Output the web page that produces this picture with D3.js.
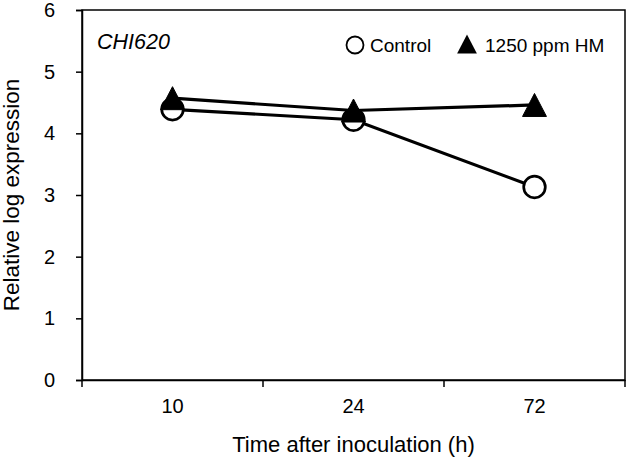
<!DOCTYPE html>
<html><head><meta charset="utf-8">
<script src="https://cdn.jsdelivr.net/npm/d3@7"></script>
<style>body{margin:0;background:#fff;} svg{display:block;font-family:"Liberation Sans",Arial,sans-serif;}</style>
</head><body>
<svg id="chart" width="628" height="464"></svg>
<script>
const categories = ["10", "24", "72"];
const controlValues = [4.39, 4.22, 3.13];
const hmValues = [4.57, 4.37, 4.46];
const yTicks = [0, 1, 2, 3, 4, 5, 6];
const seriesNames = ["Control", "1250 ppm HM"];

(function () {
const svg = d3.select("#chart");
const pL = 82, pR = 625, pT = 10, pB = 380;
const FF = "Liberation Sans, Arial, sans-serif";

const x = d3.scaleBand().domain(categories).range([pL, pR]);
const y = d3.scaleLinear().domain([0, 6]).range([pB, pT]);

// plot box
svg.append("rect").attr("x", pL).attr("y", pT).attr("width", pR-pL).attr("height", pB-pT)
  .attr("fill", "none").attr("stroke", "#000").attr("stroke-width", 1.5);

// y axis
const yAxis = svg.append("g").attr("transform", `translate(${pL},0)`)
  .call(d3.axisLeft(y).tickValues(yTicks).tickSize(6).tickPadding(21).tickFormat(d3.format("d")));
yAxis.select(".domain").attr("stroke-width", 1.5);
yAxis.selectAll(".tick line").attr("stroke-width", 1.5);
yAxis.selectAll("text").attr("font-size", 20).attr("fill", "#000").attr("font-family", FF);

// x axis with ticks at band boundaries
const xAxis = svg.append("g").attr("transform", `translate(0,${pB})`)
  .call(d3.axisBottom(x).tickSize(0).tickPadding(19));
xAxis.select(".domain").attr("stroke-width", 1.5);
xAxis.selectAll("text").attr("font-size", 20).attr("fill", "#000").attr("font-family", FF);
const bounds = categories.map(c => x(c)).concat([x(categories[categories.length-1]) + x.bandwidth()]);
svg.append("g").selectAll("line").data(bounds).join("line")
  .attr("x1", d => d).attr("x2", d => d).attr("y1", pB).attr("y2", pB + 7)
  .attr("stroke", "#000").attr("stroke-width", 1.5);

const cx = c => x(c) + x.bandwidth()/2;
const line = d3.line().x((d, i) => cx(categories[i])).y(d => y(d));

// control series
svg.append("path").datum(controlValues).attr("d", line).attr("fill", "none").attr("stroke", "#000").attr("stroke-width", 3.2);
svg.append("g").selectAll("circle").data(controlValues).join("circle")
  .attr("cx", (d, i) => cx(categories[i])).attr("cy", d => y(d)).attr("r", 10.8)
  .attr("fill", "#fff").attr("stroke", "#000").attr("stroke-width", 2.7);

// HM series
svg.append("path").datum(hmValues).attr("d", line).attr("fill", "none").attr("stroke", "#000").attr("stroke-width", 3.2);
const tri = (s) => `M0,${-s*0.5}L${s*0.52},${s*0.5}L${-s*0.52},${s*0.5}Z`;
svg.append("g").selectAll("path").data(hmValues).join("path")
  .attr("transform", (d, i) => `translate(${cx(categories[i])},${y(d)})`)
  .attr("d", tri(23)).attr("fill", "#000").attr("stroke", "#000").attr("stroke-width", 1).attr("stroke-linejoin", "round");

// title inside
svg.append("text").attr("x", 97).attr("y", 49).attr("font-size", 21.5).attr("font-style", "italic").text("CHI620");

// legend
svg.append("circle").attr("cx", 355).attr("cy", 45).attr("r", 8.5).attr("fill", "#fff").attr("stroke", "#000").attr("stroke-width", 1.8);
svg.append("text").attr("x", 370).attr("y", 52).attr("font-size", 19).text(seriesNames[0]);
svg.append("path").attr("transform", "translate(467,44)").attr("d", tri(19)).attr("fill", "#000");
svg.append("text").attr("x", 485).attr("y", 52).attr("font-size", 19).text(seriesNames[1]);

// axis titles
svg.append("text").attr("x", (pL+pR)/2).attr("y", 452).attr("text-anchor", "middle").attr("font-size", 22).text("Time after inoculation (h)");
svg.append("text").attr("transform", `translate(19,${(pT+pB)/2}) rotate(-90)`).attr("text-anchor", "middle").attr("font-size", 22.5).text("Relative log expression");
})();
</script>
</body></html>
